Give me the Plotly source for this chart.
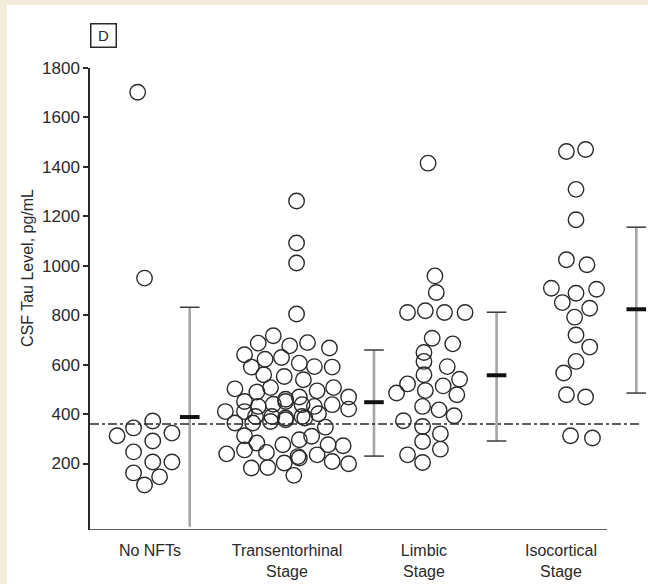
import plotly.graph_objects as go

# ---------------- data ----------------
categories = ["No NFTs", "Transentorhinal<br>Stage", "Limbic<br>Stage", "Isocortical<br>Stage"]
y_ticks = [200, 400, 600, 800, 1000, 1200, 1400, 1600, 1800]
cutoff = 360

nonft_vals = [1702, 950, 312, 344, 372, 323, 291, 247, 206, 206, 162, 146, 113]
nonft_dx = [-0.09, -0.04, -0.24, -0.12, 0.02, 0.16, 0.02, -0.12, 0.02, 0.16, -0.12, 0.07, -0.04]

trans_vals = [1262, 1092, 1011, 805,
              717, 687, 676, 689, 667,
              640, 622, 629, 606, 592, 590,
              590, 559, 552, 539,
              502, 489, 507, 460, 469, 494, 507, 469,
              451, 431, 440, 451, 438, 431, 438, 420,
              410, 410, 390, 390, 384, 390, 401,
              364, 364, 370, 377, 384, 347,
              312, 283, 276, 296, 310,
              239, 255, 245, 228, 235, 276, 272,
              182, 184, 202, 222, 208, 199,
              152]
trans_dx = [0.07, 0.07, 0.07, 0.07,
            -0.10, -0.21, 0.02, 0.15, 0.31,
            -0.31, -0.16, -0.04, 0.09, 0.20, 0.33,
            -0.26, -0.17, -0.02, 0.12,
            -0.38, -0.22, -0.12, -0.01, 0.09, 0.22, 0.34, 0.45,
            -0.31, -0.21, -0.10, -0.01, 0.11, 0.20, 0.33, 0.45,
            -0.45, -0.31, -0.23, -0.11, -0.01, 0.11, 0.23,
            -0.38, -0.25, -0.12, -0.01, 0.13, 0.28,
            -0.31, -0.22, -0.03, 0.09, 0.18,
            -0.44, -0.31, -0.15, 0.08, 0.22, 0.30, 0.41,
            -0.26, -0.14, -0.02, 0.09, 0.33, 0.45,
            0.05]

limbic_vals = [1415, 959, 892, 811, 818, 811, 811, 707, 684, 649, 613, 592, 559, 522, 541,
               514, 485, 495, 478, 431, 417, 393, 373, 350, 320, 289, 258, 235, 204]
limbic_dx = [0.03, 0.08, 0.09, -0.12, 0.01, 0.15, 0.30, 0.06, 0.21, 0.00, 0.00, 0.17, 0.00, -0.12, 0.26,
             0.14, -0.20, 0.01, 0.24, -0.01, 0.11, 0.22, -0.15, -0.01, 0.12, -0.01, 0.12, -0.12, -0.01]

iso_vals = [1462, 1470, 1309, 1186, 1024, 1004, 909, 889, 905, 851, 828, 792, 720, 671, 613,
            566, 478, 469, 312, 303]
iso_dx = [0.04, 0.18, 0.11, 0.11, 0.04, 0.19, -0.07, 0.11, 0.26, 0.01, 0.21, 0.10, 0.11, 0.21, 0.11,
          0.02, 0.04, 0.18, 0.07, 0.23]

# mean +/- SD summary bars (placed to the right of each group)
summary_offset = [0.29, 0.635, 0.53, 0.55]
means = [388, 448, 557, 824]
upper = [832, 659, 812, 1156]
lower = [-56, 230, 291, 485]

# ---------------- figure ----------------
INK = "#2a2a2a"
FONT = "Liberation Sans Narrow, Arial Narrow, Liberation Sans, Arial, sans-serif"
X_MIN, X_AXIS_END, X_MAX = -0.438, 3.336, 3.599
Y_MIN, Y_MAX = -69, 1800

fig = go.Figure()

groups = [(nonft_dx, nonft_vals), (trans_dx, trans_vals), (limbic_dx, limbic_vals), (iso_dx, iso_vals)]
for i, (dx, vals) in enumerate(groups):
    fig.add_trace(go.Scatter(
        x=[i + d for d in dx], y=vals, mode="markers",
        marker=dict(symbol="circle", size=15.5, color="rgba(0,0,0,0)",
                    line=dict(color=INK, width=1.4)),
        showlegend=False, hoverinfo="y"))

# grey SD lines
sx, sy = [], []
for i in range(4):
    xx = i + summary_offset[i]
    sx += [xx, xx, None]
    sy += [max(lower[i], Y_MIN), upper[i], None]
fig.add_trace(go.Scatter(x=sx, y=sy, mode="lines", line=dict(color="#a6a6a6", width=2.6),
                         showlegend=False, hoverinfo="skip"))

# caps
cx, cy = [], []
for i in range(4):
    xx = i + summary_offset[i]
    cx.append(xx); cy.append(upper[i])
    if lower[i] > 0:
        cx.append(xx); cy.append(lower[i])
fig.add_trace(go.Scatter(x=cx, y=cy, mode="markers", cliponaxis=False,
                         marker=dict(symbol="line-ew-open", size=14, color="#3a3a3a",
                                     line=dict(color="#3a3a3a", width=1.5)),
                         showlegend=False, hoverinfo="y"))
# means
fig.add_trace(go.Scatter(x=[i + summary_offset[i] for i in range(4)], y=means, mode="markers",
                         cliponaxis=False,
                         marker=dict(symbol="line-ew-open", size=14, color="#111111",
                                     line=dict(color="#111111", width=4)),
                         showlegend=False, hoverinfo="y"))

shapes = [
    # beige frame strips
    dict(type="rect", xref="paper", yref="paper", x0=-0.2, x1=(7 - 90) / 553, y0=-0.2, y1=1.2,
         fillcolor="#F3ECD8", line_width=0, layer="below"),
    dict(type="rect", xref="paper", yref="paper", x0=-0.2, x1=1.1, y0=(530 - 5) / 462, y1=1.2,
         fillcolor="#F3ECD8", line_width=0, layer="below"),
    # x axis line
    dict(type="line", xref="x", yref="y", x0=X_MIN, x1=X_AXIS_END, y0=Y_MIN, y1=Y_MIN,
         line=dict(color=INK, width=1.5)),
    # cutoff dashed line
    dict(type="line", xref="x", yref="y", x0=X_MIN, x1=3.59, y0=cutoff, y1=cutoff,
         line=dict(color=INK, width=1.5, dash="9px,3px,3px,3px")),
]

fig.update_layout(
    width=648, height=584,
    margin=dict(l=90, r=5, t=68, b=54),
    paper_bgcolor="white", plot_bgcolor="white",
    font=dict(family=FONT, size=16, color=INK),
    shapes=shapes,
    xaxis=dict(range=[X_MIN, X_MAX], tickvals=[0, 1, 2, 3], ticktext=categories,
               showgrid=False, zeroline=False, showline=False,
               ticks="outside", ticklen=6, tickcolor="rgba(0,0,0,0)",
               tickfont=dict(size=16, family=FONT, color=INK)),
    yaxis=dict(range=[Y_MIN, Y_MAX], tickvals=y_ticks, showgrid=False, zeroline=False,
               showline=True, linecolor=INK, linewidth=1.5, ticks="outside", ticklen=5,
               tickwidth=1.5, tickcolor=INK, tickfont=dict(size=17, family=FONT, color=INK)),
    annotations=[
        dict(text="CSF Tau Level, pg/mL", textangle=-90, xref="paper", yref="paper",
             x=(27 - 90) / 553, y=(530 - 268) / 462, xanchor="center", yanchor="middle",
             showarrow=False, font=dict(size=16, family=FONT, color=INK)),
        dict(text="D", xref="paper", yref="paper", x=(103 - 90) / 553, y=(530 - 36) / 462,
             xanchor="center", yanchor="middle", showarrow=False,
             bordercolor=INK, borderwidth=1.5, borderpad=2, width=20, height=18,
             font=dict(size=15, family=FONT, color=INK)),
    ],
)

fig.write_html("out.html", config={"displayModeBar": False},
               post_script="document.body.style.margin='0';document.body.style.overflow='hidden';")
